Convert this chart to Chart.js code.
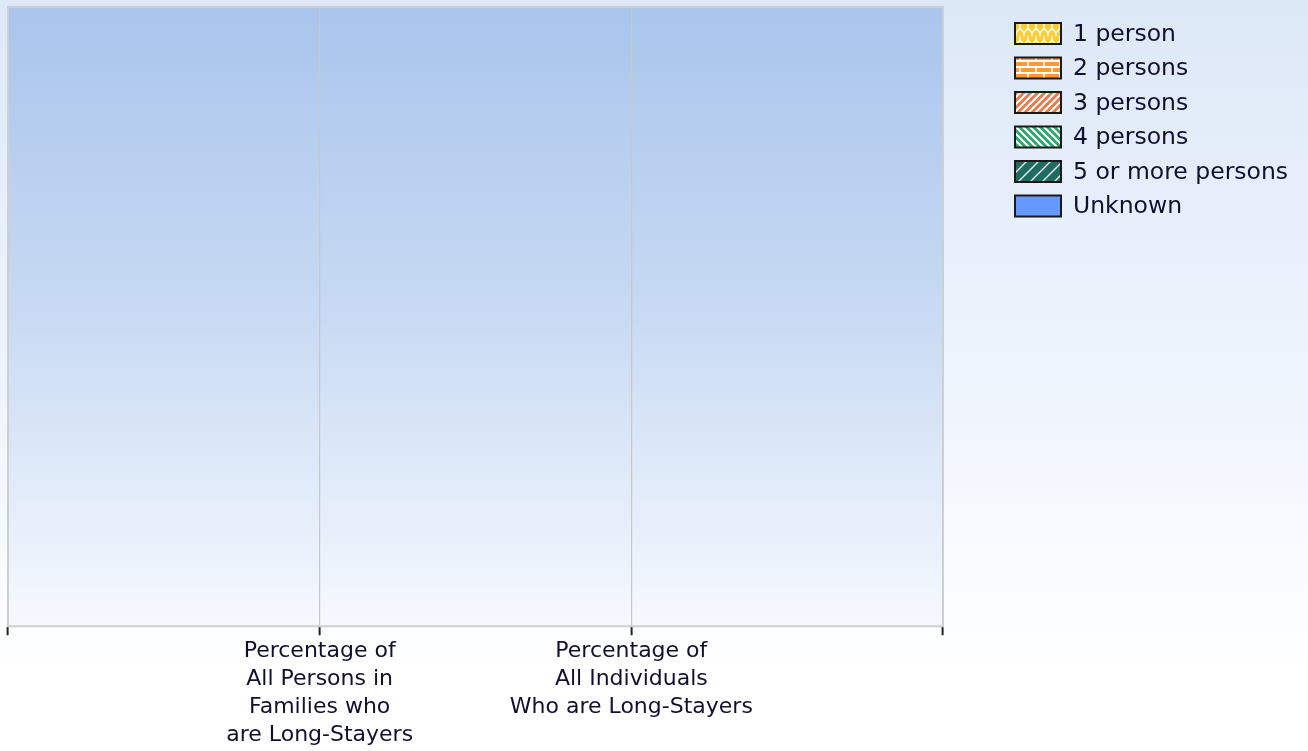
<!DOCTYPE html>
<html>
<head>
<meta charset="utf-8">
<script src="https://cdn.jsdelivr.net/npm/chart.js@4.4.1/dist/chart.umd.min.js"></script>
<style>
html,body{margin:0;padding:0;background:#fff;}
#wrap{width:1308px;height:751px;position:relative;}
canvas{display:block;}
</style>
</head>
<body>
<div id="wrap"><canvas id="c" width="1308" height="751"></canvas></div>
<script>
// ---- data ----
const categories = ['', ['Percentage of','All Persons in','Families who','are Long-Stayers'], ['Percentage of','All Individuals','Who are Long-Stayers'], ''];
const seriesNames = ['1 person','2 persons','3 persons','4 persons','5 or more persons','Unknown'];
const onePerson = [null, 0, 0, null];
const twoPersons = [null, 0, 0, null];
const threePersons = [null, 0, 0, null];
const fourPersons = [null, 0, 0, null];
const fivePlusPersons = [null, 0, 0, null];
const unknownSize = [null, 0, 0, null];

// ---- patterns ----
function makePattern(w, h, bg, draw) {
  const c = document.createElement('canvas');
  c.width = w; c.height = h;
  const x = c.getContext('2d');
  x.fillStyle = bg; x.fillRect(0, 0, w, h);
  x.strokeStyle = '#ffffff'; x.lineWidth = 1.4;
  if (draw) draw(x, w, h);
  return x.createPattern(c, 'repeat');
}
const patLattice = makePattern(16, 12, '#ffcc33', (x) => {
  x.beginPath();
  x.moveTo(0, 9); x.lineTo(4, 4); x.lineTo(8, 9); x.lineTo(12, 4); x.lineTo(16, 9);
  x.moveTo(4, 4); x.lineTo(4, 0);
  x.moveTo(12, 4); x.lineTo(12, 0);
  x.moveTo(8, 9); x.lineTo(8, 12);
  x.moveTo(0, 9); x.lineTo(0, 12); x.moveTo(16, 9); x.lineTo(16, 12);
  x.stroke();
});
const patBrick = makePattern(16, 12, '#ff9933', (x) => {
  x.lineWidth = 1.8;
  x.beginPath();
  x.moveTo(0, 1); x.lineTo(16, 1);
  x.moveTo(0, 7); x.lineTo(16, 7);
  x.moveTo(4, 1); x.lineTo(4, 7);
  x.moveTo(12, 7); x.lineTo(12, 12);
  x.moveTo(12, 0); x.lineTo(12, 1);
  x.stroke();
});
const patFwd = makePattern(7, 7, '#e87a4c', (x) => {
  x.lineWidth = 2;
  x.beginPath();
  x.moveTo(0, 7); x.lineTo(7, 0);
  x.moveTo(-3.5, 3.5); x.lineTo(3.5, -3.5);
  x.moveTo(3.5, 10.5); x.lineTo(10.5, 3.5);
  x.stroke();
});
const patBack = makePattern(7, 7, '#2ea86c', (x) => {
  x.lineWidth = 2;
  x.beginPath();
  x.moveTo(0, 0); x.lineTo(7, 7);
  x.moveTo(-3.5, 3.5); x.lineTo(3.5, 10.5);
  x.moveTo(3.5, -3.5); x.lineTo(10.5, 3.5);
  x.stroke();
});
const patWide = makePattern(12, 12, '#1d6b61', (x) => {
  x.lineWidth = 1.3;
  x.beginPath();
  x.moveTo(0, 12); x.lineTo(12, 0);
  x.moveTo(-6, 6); x.lineTo(6, -6);
  x.moveTo(6, 18); x.lineTo(18, 6);
  x.stroke();
});
const seriesFills = [patLattice, patBrick, patFwd, patBack, patWide, '#6699ff'];
const seriesData = [onePerson, twoPersons, threePersons, fourPersons, fivePlusPersons, unknownSize];

const FONT = '"DejaVu Sans", Verdana, sans-serif';
const TEXT = '#101030';

const bgPlugin = {
  id: 'bg',
  beforeDraw(chart) {
    const {ctx, width, height, chartArea: a} = chart;
    ctx.save();
    let g = ctx.createLinearGradient(0, 0, 0, height);
    g.addColorStop(0, '#dde8f7');
    g.addColorStop(0.5, '#eef4fd');
    g.addColorStop(0.9, '#ffffff');
    g.addColorStop(1, '#ffffff');
    ctx.fillStyle = g;
    ctx.fillRect(0, 0, width, height);
    g = ctx.createLinearGradient(0, a.top, 0, a.bottom);
    g.addColorStop(0, '#a9c5ec');
    g.addColorStop(0.5, '#c8daf3');
    g.addColorStop(1, '#f6f9fe');
    ctx.fillStyle = g;
    ctx.fillRect(a.left, a.top, a.right - a.left, a.bottom - a.top);
    ctx.restore();
  },
  afterDatasetsDraw(chart) {
    const {ctx, chartArea: a} = chart;
    ctx.save();
    ctx.strokeStyle = '#cfcfcf';
    ctx.lineWidth = 2;
    ctx.strokeRect(a.left, a.top, a.right - a.left, a.bottom - a.top);
    ctx.restore();
  },
  afterDraw(chart) {
    const {ctx} = chart;
    ctx.save();
    const x0 = 1015, y0 = 23, bw = 46, bh = 21, step = 34.5;
    ctx.font = '23.5px ' + FONT;
    ctx.textBaseline = 'middle';
    chart.data.datasets.forEach((ds, i) => {
      const y = y0 + i * step;
      ctx.fillStyle = ds.backgroundColor;
      ctx.fillRect(x0, y, bw, bh);
      ctx.strokeStyle = '#1a1a1a';
      ctx.lineWidth = 2;
      ctx.strokeRect(x0, y, bw, bh);
      ctx.fillStyle = TEXT;
      ctx.fillText(ds.label, x0 + bw + 12, y + bh / 2 + 1);
    });
    ctx.restore();
  }
};

new Chart(document.getElementById('c'), {
  type: 'bar',
  data: {
    labels: categories,
    datasets: seriesNames.map((n, i) => ({
      label: n,
      data: seriesData[i],
      backgroundColor: seriesFills[i],
      borderColor: '#1a1a1a',
      borderWidth: 0
    }))
  },
  options: {
    responsive: false,
    animation: false,
    layout: { padding: { left: 8, top: 7, right: 365, bottom: 0 } },
    plugins: { legend: { display: false }, tooltip: { enabled: false } },
    scales: {
      x: {
        stacked: true,
        offset: false,
        grid: { color: '#c8c8c8', tickColor: '#222', tickLength: 9, tickWidth: 2, offset: false, lineWidth: 1.2 },
        border: { color: '#c8c8c8' },
        ticks: { font: { family: FONT, size: 22, lineHeight: 1.27 }, color: TEXT, padding: 2, maxRotation: 0, autoSkip: false }
      },
      y: {
        stacked: true,
        display: false,
        min: 0,
        max: 100
      }
    }
  },
  plugins: [bgPlugin]
});
</script>
</body>
</html>
